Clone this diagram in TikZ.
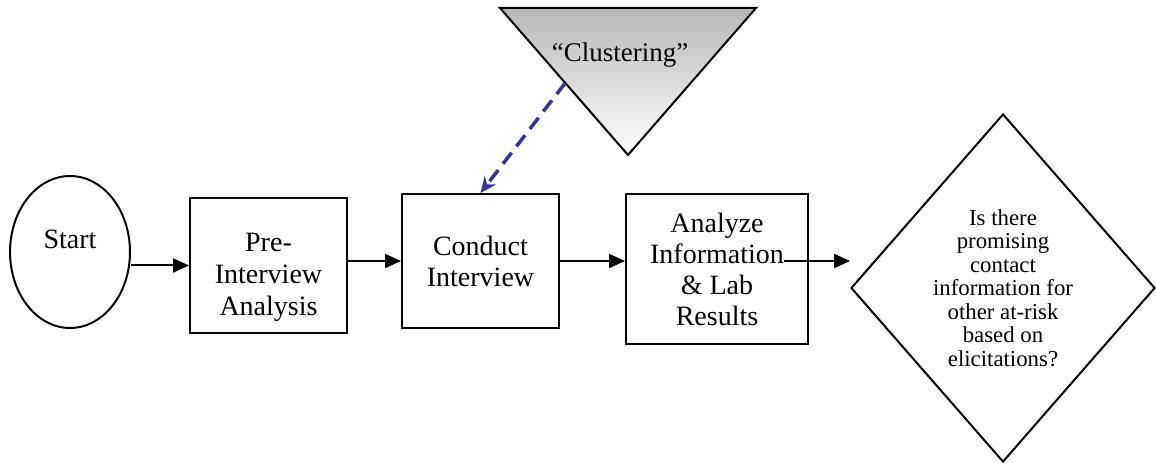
\documentclass[tikz,border=0pt]{standalone}
\usepackage{fontspec}
\setmainfont{Liberation Serif}
\usetikzlibrary{arrows.meta,shapes.geometric,calc}

\definecolor{dashblue}{RGB}{51,51,153}

\tikzset{
	flowbox/.style={draw, line width=2pt, minimum width=157pt, minimum height=134pt,
		align=center, inner sep=2pt, font=\fontsize{28}{31}\selectfont},
	flowarr/.style={-{Triangle[length=16pt,width=14pt]}, line width=2pt},
}

\begin{document}
\begin{tikzpicture}[x=1pt, y=1pt]
		\useasboundingbox (0,0) rectangle (1156,463);
		
		% Start and the three process boxes
		\node[draw, ellipse, line width=2pt, minimum width=120pt, minimum height=152pt,
			label={[font=\fontsize{28}{32}\selectfont, yshift=13pt]center:Start}]
			(start) at (70,211) {};
		\node[flowbox, minimum height=135pt,
			label={[align=center, font=\fontsize{28}{32}\selectfont, yshift=-12pt]center:Pre-\\Interview\\Analysis}]
			(pre) at (268.5,197.5) {};
		\node[flowbox] (conduct) at (480.5,202) {Conduct\\Interview};
		\node[flowbox, minimum width=182pt, minimum height=150pt] (analyze) at (717,194)
			{Analyze\\Information\\\& Lab\\Results};
		
		% Decision diamond
		\node[draw, diamond, line width=2pt, minimum width=304pt, minimum height=348pt,
			align=center, inner sep=0pt, font=\fontsize{22.8}{23.5}\selectfont]
			(ask) at (1003,175)
			{Is there\\promising\\contact\\information for\\other at-risk\\based on\\elicitations?};
		
		\path % Three corners of the clustering triangle
		(500,455) coordinate (cltopleft)
		(756,455) coordinate (cltopright)
		(628,308) coordinate (clbot)
		;
		\shadedraw[top color=black!28, bottom color=white, line width=2pt]
		(cltopleft) -- (cltopright) -- (clbot) -- cycle;
		\node[font=\fontsize{27}{32}\selectfont] (cluster) at (620,408) {``Clustering''};
		
		% Connectors
		\draw[flowarr] (start.east |- pre.west) -- (pre.west);
		\draw[flowarr] (pre.east |- conduct.west) -- (conduct.west);
		\draw[flowarr] (conduct.east) -- (analyze.west |- conduct.east);
		\draw[flowarr] ([xshift=-25pt]analyze.east |- conduct.east) -- (ask.west |- conduct.east);
		
		% Dashed feedback from the triangle
		\draw[dashblue, line width=3.5pt, dash pattern=on 14pt off 8pt,
			-{Stealth[length=16pt,width=14pt]}]
		($(cltopleft)!0.51!(clbot)$) -- (conduct.north);
		
		\end{tikzpicture}
\end{document}
